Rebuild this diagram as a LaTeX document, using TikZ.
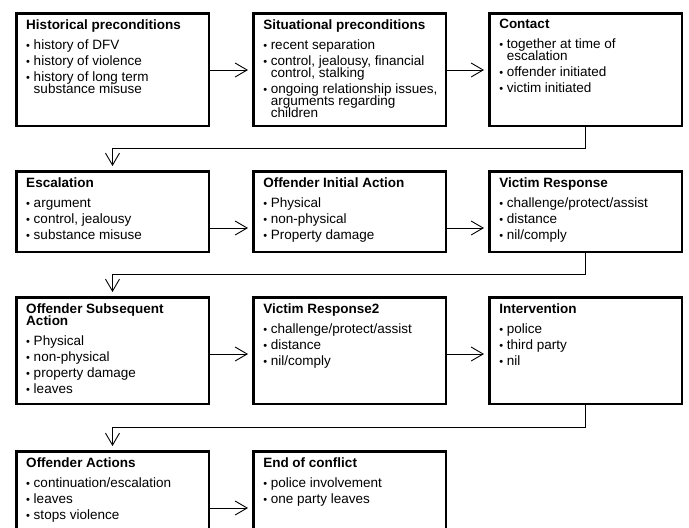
\documentclass[tikz,border=0pt]{standalone}
\usepackage{fontspec}
\setmainfont{Liberation Sans}
\usetikzlibrary{positioning,arrows.meta}

\newcommand{\stagebox}[3]{\parbox[t][#1][t]{192.5pt}{\fontsize{13.5pt}{12pt}\selectfont
  \leftskip=10pt \rightskip=0pt plus 1fil \parindent=0pt \lineskiplimit=-20pt
  \vspace*{6pt}\textbf{#2}\par\vspace{4pt}#3}}
\newcommand{\bul}[1]{\par\vspace{4pt}\noindent\hangindent=7.5pt\hangafter=1\makebox[7.5pt][l]{\fontsize{11pt}{11pt}\selectfont•}#1}

\begin{document}
\begin{tikzpicture}[x=1pt,y=1pt,
    stage/.style={draw,line width=2.5pt,inner sep=0pt,anchor=north west},
    flow/.style={-{Straight Barb[length=12pt,width=14pt]},line width=0.9pt,shorten >=4pt}]
    \useasboundingbox (0,0) rectangle (689,-528);
    \clip (0,0) rectangle (689,-528);
    \node[stage] (hist) at (15,-12) {\stagebox{112.5pt}{Historical preconditions}{\bul{history of DFV}\bul{history of violence}\bul{history of long term\\substance misuse}}};
    \node[stage,right=42pt of hist.north east,anchor=north west] (situ) {\stagebox{112.5pt}{Situational preconditions}{\bul{recent separation}\bul{control, jealousy, financial\\control, stalking}\bul{ongoing relationship issues,\\arguments regarding\\children}}};
    \node[stage,right=41pt of situ.north east,anchor=north west] (contact) {\stagebox{112.5pt}{Contact}{\bul{together at time of\\escalation}\bul{offender initiated}\bul{victim initiated}}};
    \node[stage,below=43pt of hist.south west,anchor=north west] (escal) {\stagebox{80.5pt}{Escalation}{\bul{argument}\bul{control, jealousy}\bul{substance misuse}}};
    \node[stage,right=42pt of escal.north east,anchor=north west] (initial) {\stagebox{80.5pt}{Offender Initial Action}{\bul{Physical}\bul{non-physical}\bul{Property damage}}};
    \node[stage,right=41pt of initial.north east,anchor=north west] (victim) {\stagebox{80.5pt}{Victim Response}{\bul{challenge/protect/assist}\bul{distance}\bul{nil/comply}}};
    \node[stage,below=43pt of escal.south west,anchor=north west] (subseq) {\stagebox{106.5pt}{Offender Subsequent\\Action}{\bul{Physical}\bul{non-physical}\bul{property damage}\bul{leaves}}};
    \node[stage,right=42pt of subseq.north east,anchor=north west] (victimtwo) {\stagebox{106.5pt}{Victim Response2}{\bul{challenge/protect/assist}\bul{distance}\bul{nil/comply}}};
    \node[stage,right=41pt of victimtwo.north east,anchor=north west] (interv) {\stagebox{106.5pt}{Intervention}{\bul{police}\bul{third party}\bul{nil}}};
    \node[stage,below=45pt of subseq.south west,anchor=north west] (actions) {\stagebox{113.5pt}{Offender Actions}{\bul{continuation/escalation}\bul{leaves}\bul{stops violence}}};
    \node[stage,right=42pt of actions.north east,anchor=north west] (endconf) {\stagebox{113.5pt}{End of conflict}{\bul{police involvement}\bul{one party leaves}}};
    \draw[flow] ([yshift=-58pt]hist.north east) -- ([yshift=-58pt]situ.north west);
    \draw[flow] ([yshift=-58pt]situ.north east) -- ([yshift=-58pt]contact.north west);
    \draw[flow] (contact.south) -- ++(0,-21.5) -| (escal.north);
    \draw[flow] ([yshift=-58pt]escal.north east) -- ([yshift=-58pt]initial.north west);
    \draw[flow] ([yshift=-58pt]initial.north east) -- ([yshift=-58pt]victim.north west);
    \draw[flow] (victim.south) -- ++(0,-21.5) -| (subseq.north);
    \draw[flow] ([yshift=-58pt]subseq.north east) -- ([yshift=-58pt]victimtwo.north west);
    \draw[flow] ([yshift=-58pt]victimtwo.north east) -- ([yshift=-58pt]interv.north west);
    \draw[flow] (interv.south) -- ++(0,-22.5) -| (actions.north);
    \draw[flow] ([yshift=-58pt]actions.north east) -- ([yshift=-58pt]endconf.north west);
\end{tikzpicture}
\end{document}
